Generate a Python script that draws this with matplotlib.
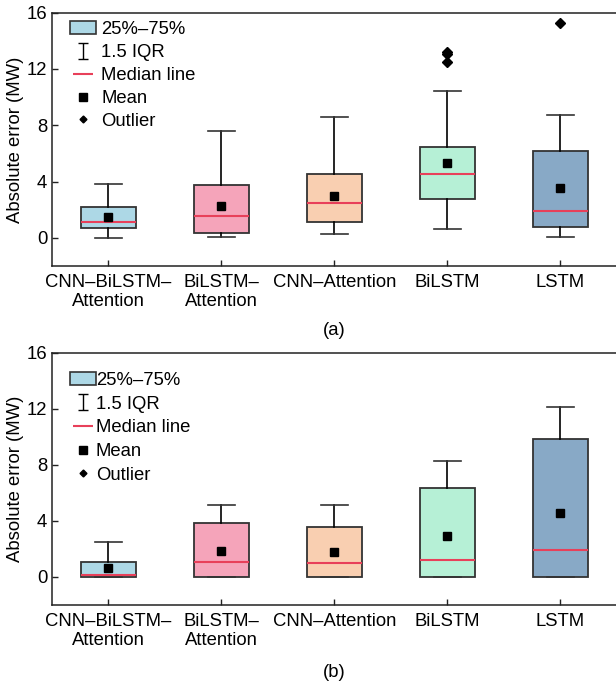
import numpy as np
import matplotlib
matplotlib.use("Agg")
import matplotlib.pyplot as plt
from matplotlib.patches import Patch
from matplotlib.lines import Line2D
from matplotlib.path import Path

plt.rcParams['font.family'] = ['Liberation Sans', 'DejaVu Sans']
plt.rcParams['font.size'] = 13.3

models = ["CNN–BiLSTM–\nAttention", "BiLSTM–\nAttention", "CNN–Attention", "BiLSTM", "LSTM"]
box_colors = ["#ADD8E6", "#F5A4BA", "#F9CFB1", "#B6F0D6", "#88A9C6"]

# (a) absolute error statistics per model
a_whislo = [0.00, 0.07, 0.28, 0.62, 0.05]
a_q1 = [0.69, 0.31, 1.11, 2.73, 0.78]
a_med = [1.16, 1.52, 2.51, 4.57, 1.92]
a_q3 = [2.16, 3.77, 4.53, 6.47, 6.19]
a_whishi = [3.86, 7.56, 8.58, 10.45, 8.75]
a_mean = [1.45, 2.28, 3.01, 5.29, 3.53]
a_fliers = [[], [], [], [13.18, 13.04, 12.51], [15.26]]

# (b) absolute error statistics per model
b_whislo = [0.0, 0.0, 0.0, 0.0, 0.0]
b_q1 = [0.0, 0.0, 0.0, 0.0, 0.0]
b_med = [0.17, 1.05, 1.00, 1.24, 1.95]
b_q3 = [1.07, 3.85, 3.57, 6.32, 9.84]
b_whishi = [2.50, 5.16, 5.16, 8.25, 12.15]
b_mean = [0.62, 1.88, 1.81, 2.92, 4.56]
b_fliers = [[], [], [], [], []]


def make_stats(whislo, q1, med, q3, whishi, mean, fliers):
    stats = []
    for i in range(len(med)):
        stats.append(dict(whislo=whislo[i], q1=q1[i], med=med[i], q3=q3[i],
                          whishi=whishi[i], mean=mean[i], fliers=fliers[i]))
    return stats


# I-shaped handle for the whisker entry
i_path = Path([(-0.6, 1), (0.6, 1), (0, 1), (0, -1), (-0.6, -1), (0.6, -1)],
              [Path.MOVETO, Path.LINETO, Path.MOVETO, Path.LINETO, Path.MOVETO, Path.LINETO])

legend_handles = [
    Patch(facecolor="#ADD8E6", edgecolor="#333333", linewidth=1.2),
    Line2D([], [], linestyle="none", marker=i_path, markersize=11, color="black",
           markerfacecolor="none", markeredgewidth=1.0),
    Line2D([], [], linestyle="none", marker="_", markersize=14, markeredgewidth=1.5,
           color="#E8405A"),
    Line2D([], [], linestyle="none", marker="s", markersize=6, color="black"),
    Line2D([], [], linestyle="none", marker="D", markersize=3.5, color="black"),
]
legend_labels = ["25%–75%", "1.5 IQR", "Median line", "Mean", "Outlier"]

fig = plt.figure(figsize=(6.16, 6.87), dpi=100)
ax_a = fig.add_axes([0.0844, 0.6128, 0.9172, 0.3687])
ax_b = fig.add_axes([0.0844, 0.1194, 0.9172, 0.3672])

panels = [
    (ax_a, make_stats(a_whislo, a_q1, a_med, a_q3, a_whishi, a_mean, a_fliers), "(a)",
     (0.012, 1.01), 0.3, 0.32, -64),
    (ax_b, make_stats(b_whislo, b_q1, b_med, b_q3, b_whishi, b_mean, b_fliers), "(b)",
     (0.012, 0.967), 0.0, 0.36, -68),
]

for ax, stats, tag, anchor, tpad, lspace, tag_off in panels:
    pos = np.arange(1, len(models) + 1)
    bp = ax.bxp(stats, positions=pos, widths=0.49, patch_artist=True, showmeans=True,
                boxprops=dict(edgecolor="#333333", linewidth=1.3),
                whiskerprops=dict(color="black", linewidth=1.2),
                capprops=dict(color="#333333", linewidth=1.2),
                medianprops=dict(color="#E8405A", linewidth=1.5),
                meanprops=dict(marker="s", markerfacecolor="black", markeredgecolor="black",
                               markersize=6),
                flierprops=dict(marker="D", markerfacecolor="black", markeredgecolor="black",
                                markersize=5))
    for patch, c in zip(bp["boxes"], box_colors):
        patch.set_facecolor(c)
    # caps sit at roughly half the box width
    for cap in bp["caps"]:
        x0, x1 = cap.get_xdata()
        xc = (x0 + x1) / 2
        cap.set_xdata([xc - 0.12, xc + 0.12])

    ax.set_xlim(0.5, 5.5)
    ax.set_ylim(-2, 16)
    ax.set_yticks([0, 4, 8, 12, 16])
    ax.set_xticks(pos)
    ax.set_xticklabels(models, linespacing=1.15)
    ax.tick_params(direction="in", length=4, width=1.0, color="#222222", labelsize=13.3)
    ax.tick_params(axis="x", pad=6)
    ax.set_ylabel("Absolute error (MW)", fontsize=13.3, labelpad=2)
    for side in ["left", "bottom", "top", "right"]:
        ax.spines[side].set_linewidth(1.1)
        ax.spines[side].set_color("#222222")
    ax.legend(legend_handles, legend_labels, loc="upper left", bbox_to_anchor=anchor,
              frameon=False, fontsize=13.3, labelspacing=lspace, handlelength=1.4,
              handletextpad=tpad, borderaxespad=0.2)
    ax.annotate(tag, xy=(0.5, 0), xycoords="axes fraction", xytext=(0, tag_off),
                textcoords="offset pixels", ha="center", va="center", fontsize=13.3)

fig.savefig("out.png", dpi=100)
